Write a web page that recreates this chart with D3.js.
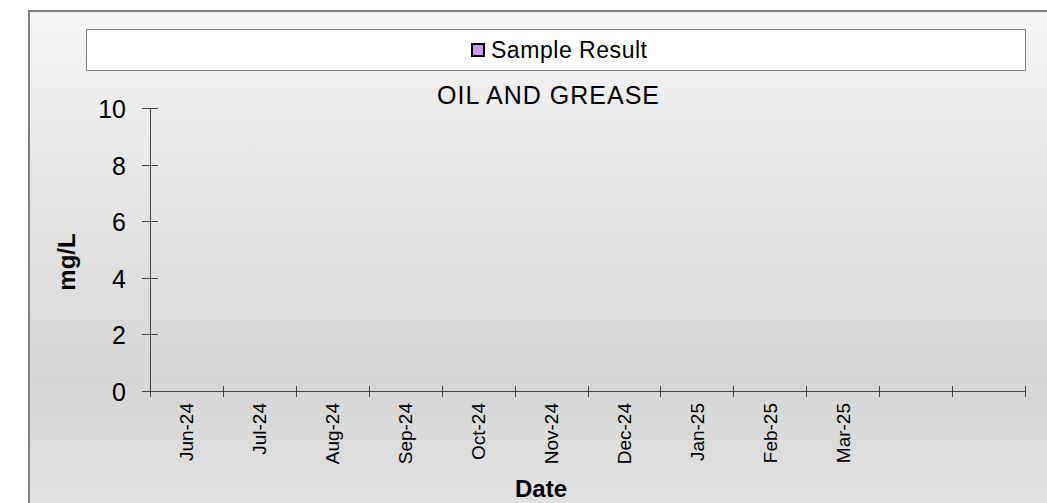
<!DOCTYPE html>
<html>
<head>
<meta charset="utf-8">
<script src="https://cdn.jsdelivr.net/npm/d3@7"></script>
<style>
  body { margin: 0; background: #fff; }
  text { font-family: "Liberation Sans", Arial, sans-serif; fill: #000; }
</style>
</head>
<body>
<div id="plot"></div>
<script>
// chart data
var categories = ['Jun-24', 'Jul-24', 'Aug-24', 'Sep-24', 'Oct-24', 'Nov-24',
                  'Dec-24', 'Jan-25', 'Feb-25', 'Mar-25', '', ' '];
var sampleResult = [];   // no results plotted in the reference
var yTicks = [0, 2, 4, 6, 8, 10];
var seriesName = 'Sample Result';
var chartTitle = 'OIL AND GREASE';

var svg_width = 1047;
var svg_height = 503;
var plot_left = 150, plot_right = 1025, plot_top = 108, plot_bottom = 391;

var svg = d3.select('#plot').append('svg')
    .attr('width', svg_width)
    .attr('height', svg_height);

// background gradient
var grad = svg.append('defs').append('linearGradient')
    .attr('id', 'bg').attr('x1', 0).attr('y1', 0).attr('x2', 0).attr('y2', 1);
grad.append('stop').attr('offset', '0%').attr('stop-color', '#f5f5f5');
grad.append('stop').attr('offset', '74%').attr('stop-color', '#d6d6d6');
grad.append('stop').attr('offset', '100%').attr('stop-color', '#e2e2e2');

svg.append('rect')
    .attr('x', 29).attr('y', 11)
    .attr('width', 1030).attr('height', 500)
    .attr('fill', 'url(#bg)')
    .attr('stroke', '#808080')
    .attr('stroke-width', 2);

// legend box
svg.append('rect')
    .attr('x', 86.5).attr('y', 29.5)
    .attr('width', 939).attr('height', 41)
    .attr('fill', '#fff')
    .attr('stroke', '#808080');

svg.append('rect')
    .attr('x', 472).attr('y', 44)
    .attr('width', 12).attr('height', 12)
    .attr('fill', '#cc99ff')
    .attr('stroke', '#000')
    .attr('stroke-width', 2);

svg.append('text')
    .attr('x', 491).attr('y', 58)
    .style('font-size', '23px')
    .attr('textLength', 156)
    .text(seriesName);

// title
svg.append('text')
    .attr('x', 548).attr('y', 104)
    .attr('text-anchor', 'middle')
    .style('font-size', '25px')
    .attr('textLength', 222)
    .text(chartTitle);

// scales
var xscale = d3.scaleBand()
    .domain(categories)
    .range([plot_left, plot_right]);

var yscale = d3.scaleLinear()
    .domain([0, 10])
    .range([plot_bottom, plot_top]);

// y axis
var yaxis = svg.append('g').attr('class', 'yaxis');
yaxis.append('line')
    .attr('x1', plot_left + 0.5).attr('x2', plot_left + 0.5)
    .attr('y1', yscale(10)).attr('y2', yscale(0))
    .attr('stroke', '#444');
yaxis.selectAll('.ytick').data(yTicks).enter().append('line')
    .attr('x1', plot_left - 8).attr('x2', d => d === 0 ? plot_left : plot_left + 8)
    .attr('y1', d => Math.round(yscale(d)) + 0.5)
    .attr('y2', d => Math.round(yscale(d)) + 0.5)
    .attr('stroke', '#444');
yaxis.selectAll('.ylabel').data(yTicks).enter().append('text')
    .attr('x', 126)
    .attr('y', d => yscale(d) + 10)
    .attr('text-anchor', 'end')
    .style('font-size', '25px')
    .text(d => d);

// x axis
var xaxis = svg.append('g').attr('class', 'xaxis');
xaxis.append('line')
    .attr('x1', plot_left).attr('x2', plot_right)
    .attr('y1', plot_bottom + 0.5).attr('y2', plot_bottom + 0.5)
    .attr('stroke', '#444');
var bounds = categories.map(d => xscale(d)).concat([plot_right]);
xaxis.selectAll('.xtick').data(bounds).enter().append('line')
    .attr('x1', d => Math.round(d) + 0.5).attr('x2', d => Math.round(d) + 0.5)
    .attr('y1', plot_bottom - 5).attr('y2', plot_bottom + 6)
    .attr('stroke', '#444');
xaxis.selectAll('.xlabel').data(categories).enter().append('text')
    .attr('transform', d => 'translate(' + (xscale(d) + xscale.bandwidth() / 2 + 7) + ',' + 403 + ') rotate(-90)')
    .attr('text-anchor', 'end')
    .style('font-size', '19px')
    .text(d => d.trim());

// series points (none in this chart)
svg.append('g').selectAll('rect.pt').data(sampleResult).enter().append('rect')
    .attr('class', 'pt')
    .attr('x', d => xscale(d.date) + xscale.bandwidth() / 2 - 4)
    .attr('y', d => yscale(d.value) - 4)
    .attr('width', 8).attr('height', 8)
    .attr('fill', '#cc99ff').attr('stroke', '#000');

// axis titles
svg.append('text')
    .attr('transform', 'translate(75, 262) rotate(-90)')
    .attr('text-anchor', 'middle')
    .style('font-size', '24px')
    .style('font-weight', 'bold')
    .text('mg/L');

svg.append('text')
    .attr('x', 541).attr('y', 497)
    .attr('text-anchor', 'middle')
    .style('font-size', '24px')
    .style('font-weight', 'bold')
    .text('Date');
</script>
</body>
</html>
